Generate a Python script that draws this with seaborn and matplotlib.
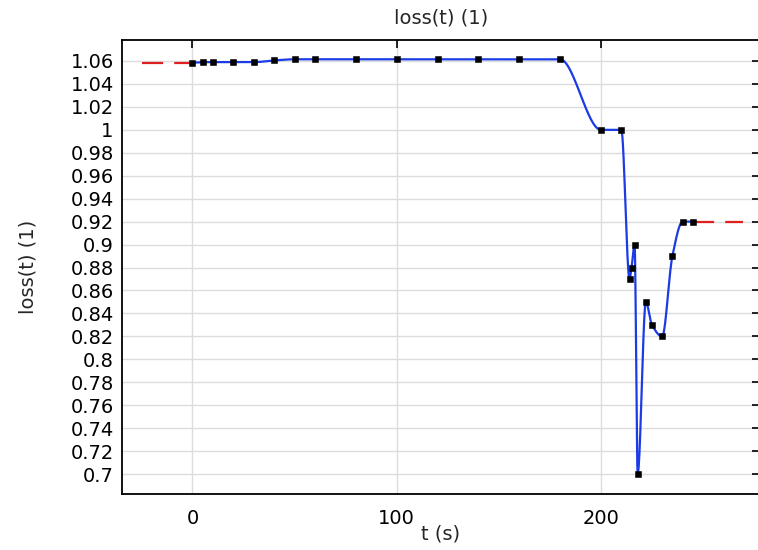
import numpy as np
import pandas as pd
import matplotlib
matplotlib.use('Agg')
import matplotlib.pyplot as plt
import seaborn as sns

# Interpolation nodes
t_pts = [0, 5, 10, 20, 30, 40, 50, 60, 80, 100, 120, 140, 160, 180,
         200, 210, 214, 215, 216.5, 218, 222, 225, 230, 235, 240, 245]
loss_pts = [1.0585, 1.059, 1.059, 1.059, 1.059, 1.0605, 1.0615, 1.0615, 1.0615,
            1.0615, 1.0615, 1.0615, 1.0615, 1.0615,
            1.0, 1.0, 0.87, 0.88, 0.9, 0.7, 0.85, 0.83, 0.82, 0.89, 0.92, 0.92]

# constant extrapolation shown as red dashes
extrap_left = [-24.5, 0]
extrap_right = [245, 269.5]

y_ticks = [0.7, 0.72, 0.74, 0.76, 0.78, 0.8, 0.82, 0.84, 0.86, 0.88, 0.9,
           0.92, 0.94, 0.96, 0.98, 1, 1.02, 1.04, 1.06]
y_tick_labels = ['0.7', '0.72', '0.74', '0.76', '0.78', '0.8', '0.82', '0.84',
                 '0.86', '0.88', '0.9', '0.92', '0.94', '0.96', '0.98', '1',
                 '1.02', '1.04', '1.06']
x_ticks = [0, 100, 200]


def pchip(x, y, xs):
    # monotone piecewise cubic, same idea as the plotted interpolation function
    x = np.asarray(x, float)
    y = np.asarray(y, float)
    h = np.diff(x)
    d = np.diff(y) / h
    n = len(x)
    m = np.zeros(n)
    for k in range(1, n - 1):
        if d[k - 1] * d[k] > 0:
            w1 = 2 * h[k] + h[k - 1]
            w2 = h[k] + 2 * h[k - 1]
            m[k] = (w1 + w2) / (w1 / d[k - 1] + w2 / d[k])
    m[0] = d[0]
    m[-1] = d[-1]
    idx = np.clip(np.searchsorted(x, xs) - 1, 0, n - 2)
    hk = h[idx]
    s = (xs - x[idx]) / hk
    h00 = 2 * s**3 - 3 * s**2 + 1
    h10 = s**3 - 2 * s**2 + s
    h01 = -2 * s**3 + 3 * s**2
    h11 = s**3 - s**2
    return h00 * y[idx] + h10 * hk * m[idx] + h01 * y[idx + 1] + h11 * hk * m[idx + 1]


t_dense = np.linspace(t_pts[0], t_pts[-1], 3000)
curve = pd.DataFrame({'t': t_dense, 'loss': pchip(t_pts, loss_pts, t_dense)})
nodes = pd.DataFrame({'t': t_pts, 'loss': loss_pts})

sns.set_style('whitegrid')
plt.rcParams['font.family'] = ['DejaVu Sans']

fig = plt.figure(figsize=(7.58, 5.5), dpi=100)
# right edge of the frame sits just past the image border, as in the reference
ax = fig.add_axes([122 / 758, 1 - 494 / 550, 638 / 758, 454 / 550])

ax.plot(extrap_left, [loss_pts[0]] * 2, color='#e02020', lw=1.6, dashes=(9.5, 5), zorder=2)
ax.plot(extrap_right, [loss_pts[-1]] * 2, color='#e02020', lw=1.6, dashes=(9.5, 5), zorder=2)
sns.lineplot(data=curve, x='t', y='loss', ax=ax, color='#1a3be6', lw=1.6, zorder=3)
sns.scatterplot(data=nodes, x='t', y='loss', ax=ax, marker='s', s=24,
                color='black', edgecolor='black', zorder=4)

ax.set_xlim(-34.5, 277.9)
ax.set_ylim(0.6826, 1.0783)
ax.set_xticks(x_ticks)
ax.set_yticks(y_ticks)
ax.set_yticklabels(y_tick_labels)
ax.grid(True, color='#dcdcdc', lw=1)

for sp in ax.spines.values():
    sp.set_color('black')
    sp.set_linewidth(1.3)

ax.tick_params(direction='in', length=6, width=1.2, color='black',
               labelsize=14, top=True, right=True, labelcolor='black')
ax.tick_params(axis='y', pad=6)
ax.tick_params(axis='x', pad=11)

ax.set_xlabel('t (s)', fontsize=14, labelpad=-3)
ax.set_ylabel('loss(t) (1)', fontsize=14, labelpad=24)
ax.set_title('loss(t) (1)', fontsize=14, pad=12)

fig.savefig('out.png', dpi=100)
